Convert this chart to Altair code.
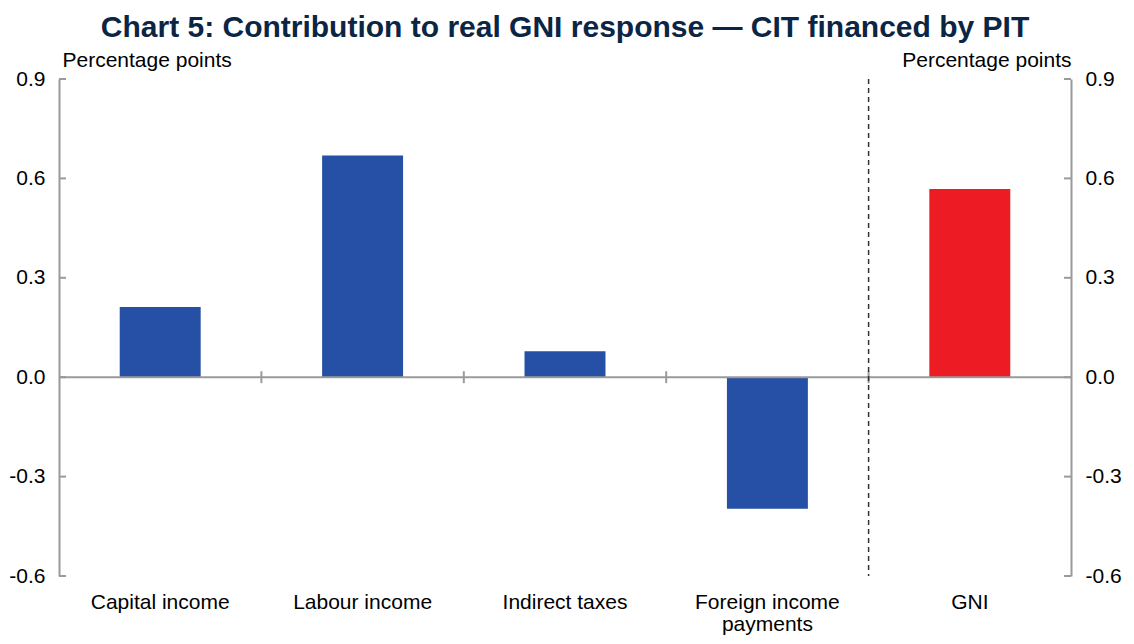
import altair as alt
import pandas as pd

categories = ["Capital income", "Labour income", "Indirect taxes", "Foreign income payments", "GNI"]
values = [0.212, 0.669, 0.078, -0.397, 0.568]
bar_colors = ["#2550a5", "#2550a5", "#2550a5", "#2550a5", "#ed1c24"]
boundaries = ["Labour income", "Indirect taxes", "Foreign income payments", "GNI"]
tick_values = [-0.6, -0.3, 0.0, 0.3, 0.6, 0.9]

W, H = 1012, 497
PAD_L, PAD_T = 51, 71
PAD_R = 1118 - PAD_L - W
PAD_B = 628 - PAD_T - H
FONT = "Liberation Sans"
GREY = "#9a9a9a"
FS = 21

df = pd.DataFrame({"cat": categories, "value": values, "color": bar_colors})
bdf = pd.DataFrame({"cat": boundaries})
tdf = pd.DataFrame({"v": tick_values})

label_expr = "datum.value == 'Foreign income payments' ? ['Foreign income', 'payments'] : datum.value"
ylabel_expr = "datum.value < 0 ? '-' + format(-datum.value, '.1f') : format(datum.value, '.1f')"


def X(band_pos=None):
    kw = {}
    if band_pos is not None:
        kw["bandPosition"] = band_pos
    return alt.X(
        "cat:N",
        sort=categories,
        scale=alt.Scale(domain=categories, paddingInner=0, paddingOuter=0),
        axis=alt.Axis(
            title=None, domain=False, ticks=False, labelAngle=0,
            labelFontSize=FS, labelFont=FONT, labelColor="#000000",
            labelPadding=15, labelExpr=label_expr, labelLineHeight=22,
        ),
        **kw,
    )


yscale = alt.Scale(domain=[-0.6, 0.9], nice=False, zero=False)

common_axis = dict(
    values=tick_values, grid=False, ticks=False, labelExpr=ylabel_expr,
    domainColor=GREY, domainWidth=2, labelFontSize=FS, labelFont=FONT,
    labelColor="#000000", labelPadding=14,
    title="Percentage points", titleAngle=0, titleBaseline="bottom",
    titleY=-9, titleFontSize=FS, titleFont=FONT, titleFontWeight="normal",
    titleColor="#000000",
)
left_axis = alt.Axis(titleAlign="left", titleX=3, **common_axis)
right_axis = alt.Axis(orient="right", titleAlign="right", titleX=0, **common_axis)

bars = alt.Chart(df).mark_bar(width={"band": 0.4}).encode(
    x=X(),
    y=alt.Y("value:Q", scale=yscale, axis=left_axis),
    color=alt.Color("color:N", scale=None),
)

zero = alt.Chart(df).mark_rule(color=GREY, strokeWidth=2).encode(
    y=alt.Y("z:Q", scale=yscale, axis=None)
).transform_calculate(z="0").transform_filter("datum.cat == 'GNI'")

bticks = alt.Chart(bdf).mark_rule(color=GREY, strokeWidth=2).encode(
    x=X(0),
    y=alt.Y("lo:Q", scale=yscale, axis=None),
    y2="hi:Q",
).transform_calculate(lo="-0.018", hi="0.018")

dashed = alt.Chart(pd.DataFrame({"cat": ["GNI"]})).mark_rule(
    color="#333333", strokeWidth=1.5, strokeDash=[5, 4]
).encode(x=X(0))

lticks = alt.Chart(tdf).mark_rule(color=GREY, strokeWidth=2).encode(
    y=alt.Y("v:Q", scale=yscale, axis=None),
    x=alt.value(0), x2=alt.value(7),
)

rticks = alt.Chart(tdf).mark_rule(color=GREY, strokeWidth=2).encode(
    y=alt.Y("v:Q", scale=yscale, axis=right_axis),
    x=alt.value(W - 7), x2=alt.value(W),
)

chart = alt.layer(bars, zero, bticks, dashed, lticks, rticks).resolve_scale(
    y="independent"
).properties(
    width=W, height=H,
    autosize=alt.AutoSizeParams(type="none"),
    padding={"left": PAD_L, "top": PAD_T, "right": PAD_R, "bottom": PAD_B},
    title=alt.TitleParams(
        "Chart 5: Contribution to real GNI response \u2014 CIT financed by PIT",
        fontSize=30, font=FONT, fontWeight="bold", color="#0b2545",
        anchor="middle", offset=6,
    ),
).configure_view(stroke=None)

chart.save("out.html", embed_options={"renderer": "svg", "actions": False})
